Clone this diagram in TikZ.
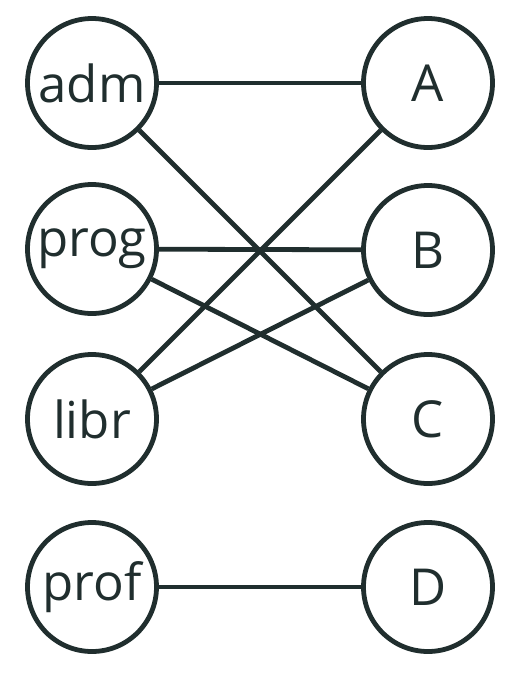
\documentclass[tikz,border=0pt]{standalone}
\usepackage{fontspec}
\setmainfont{Open Sans}
\definecolor{inkgray}{RGB}{32,46,46}
\begin{document}
\begin{tikzpicture}[line width=0.048cm, draw=inkgray, text=inkgray,
    every node/.style={font=\fontsize{14.5}{16}\selectfont},
    vert/.style={draw=inkgray, circle, minimum size=1.29cm, inner sep=0pt}]
            \useasboundingbox (0,0) rectangle (5.22,-6.75);

            % Draw the left column
            \node[vert] (adm)  at (0.92,-0.83) {adm};
            \node[vert] (prog) at (0.92,-2.49) {prog};
            \node[vert] (libr) at (0.92,-4.19) {libr};
            \node[vert] (prof) at (0.92,-5.87) {prof};

            % Draw the right column
            \node[vert] (A) at (4.28,-0.83) {A};
            \node[vert] (B) at (4.28,-2.50) {B};
            \node[vert] (C) at (4.28,-4.19) {C};
            \node[vert] (D) at (4.28,-5.87) {D};

            % Draw the edges
            \draw[inkgray] (adm) -- (A);
            \draw[inkgray] (adm) -- (C);
            \draw[inkgray] (prog) -- (B);
            \draw[inkgray] (prog) -- (C);
            \draw[inkgray] (libr) -- (A);
            \draw[inkgray] (libr) -- (B);
            \draw[inkgray] (prof) -- (D);
\end{tikzpicture}
\end{document}
